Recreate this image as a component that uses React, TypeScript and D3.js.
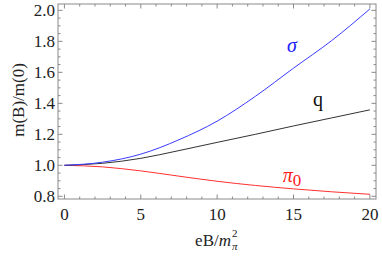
import React from 'react';
import * as d3 from 'd3';

// eB / m_pi^2
const fieldValues = [0, 2.5, 5, 7.5, 10, 12.5, 15, 17.5, 20];
const sigmaMass = [1.0, 1.02, 1.072, 1.165, 1.285, 1.445, 1.627, 1.805, 2.009];
const quarkMass = [1.0, 1.013, 1.045, 1.095, 1.148, 1.2, 1.254, 1.306, 1.358];
const pionMass = [1.0, 0.99, 0.964, 0.93, 0.897, 0.87, 0.848, 0.829, 0.813];

const xTickLabels = [0, 5, 10, 15, 20];
const yTickLabels = [0.8, 1.0, 1.2, 1.4, 1.6, 1.8, 2.0];

const W = 382;
const H = 257;
const frame = { left: 58, right: 376, top: 4, bottom: 199 };

const x = d3.scaleLinear().domain([-0.42, 20.4]).range([frame.left, frame.right]);
const y = d3.scaleLinear().domain([0.7826, 2.041]).range([frame.bottom, frame.top]);

const line = d3
  .line<[number, number]>()
  .x(d => x(d[0]))
  .y(d => y(d[1]))
  .curve(d3.curveMonotoneX);

const toPoints = (vals: number[]) => fieldValues.map((b, i) => [b, vals[i]] as [number, number]);

const axisColor = '#8a8a8a';

export default function App() {
  const xMinor = d3.range(0, 20.01, 1);
  const yMinor = d3.range(0.8, 2.001, 0.05);
  const isMajorX = (v: number) => Math.abs(v % 5) < 1e-6;
  const isMajorY = (v: number) => Math.abs(Math.round(v * 5) - v * 5) < 1e-6;

  return (
    <svg width={W} height={H} style={{ position: 'absolute', left: 0, top: 0 }}>
      <rect x={0} y={0} width={W} height={H} fill="#fff" />
      {/* frame */}
      <rect
        x={frame.left}
        y={frame.top}
        width={frame.right - frame.left}
        height={frame.bottom - frame.top}
        fill="none"
        stroke={axisColor}
        strokeWidth={1}
      />
      {xMinor.map(v => {
        const len = isMajorX(v) ? 4.5 : 2.5;
        const px = x(v);
        return (
          <g key={'xt' + v} stroke={axisColor} strokeWidth={1}>
            <line x1={px} x2={px} y1={frame.bottom} y2={frame.bottom - len} />
            <line x1={px} x2={px} y1={frame.top} y2={frame.top + len} />
          </g>
        );
      })}
      {yMinor.map(v => {
        const len = isMajorY(v) ? 4.5 : 2.5;
        const py = y(v);
        return (
          <g key={'yt' + v.toFixed(2)} stroke={axisColor} strokeWidth={1}>
            <line x1={frame.left} x2={frame.left + len} y1={py} y2={py} />
            <line x1={frame.right} x2={frame.right - len} y1={py} y2={py} />
          </g>
        );
      })}
      {/* tick labels */}
      {xTickLabels.map(v => (
        <text key={'xl' + v} x={x(v)} y={220} textAnchor="middle" fontSize={17} fill="#222">
          {v}
        </text>
      ))}
      {yTickLabels.map(v => (
        <text key={'yl' + v} x={55} y={y(v)} dy="0.35em" textAnchor="end" fontSize={17} fill="#222">
          {v.toFixed(1)}
        </text>
      ))}
      {/* axis titles */}
      <text x={231} y={246} textAnchor="end" fontSize={17} fill="#222">
        eB/<tspan fontStyle="italic">m</tspan>
      </text>
      <text x={232} y={250} fontStyle="italic" fontSize={11} fill="#222">
        π
      </text>
      <text x={232} y={237} fontSize={11} fill="#222">
        2
      </text>
      <text transform="translate(24,100) rotate(-90)" textAnchor="middle" fontSize={17} fill="#222">
        m(B)/m(0)
      </text>
      {/* curves */}
      <path d={line(toPoints(pionMass)) || ''} fill="none" stroke="#ff3030" strokeWidth={1} />
      <path d={line(toPoints(quarkMass)) || ''} fill="none" stroke="#333" strokeWidth={1} />
      <path d={line(toPoints(sigmaMass)) || ''} fill="none" stroke="#3a3aff" strokeWidth={1} />
      {/* curve labels */}
      <text x={x(14.9)} y={y(1.73)} textAnchor="middle" fontStyle="italic" fontSize={20} fill="#2020ff">
        σ
      </text>
      <text x={x(16.6)} y={y(1.38)} textAnchor="middle" fontSize={20} fill="#111">
        q
      </text>
      <text x={x(14.9)} y={y(0.895)} textAnchor="middle" fontSize={20} fill="#ff1a1a">
        <tspan fontStyle="italic">π</tspan>
        <tspan fontSize={17} dy={4}>0</tspan>
      </text>
    </svg>
  );
}
